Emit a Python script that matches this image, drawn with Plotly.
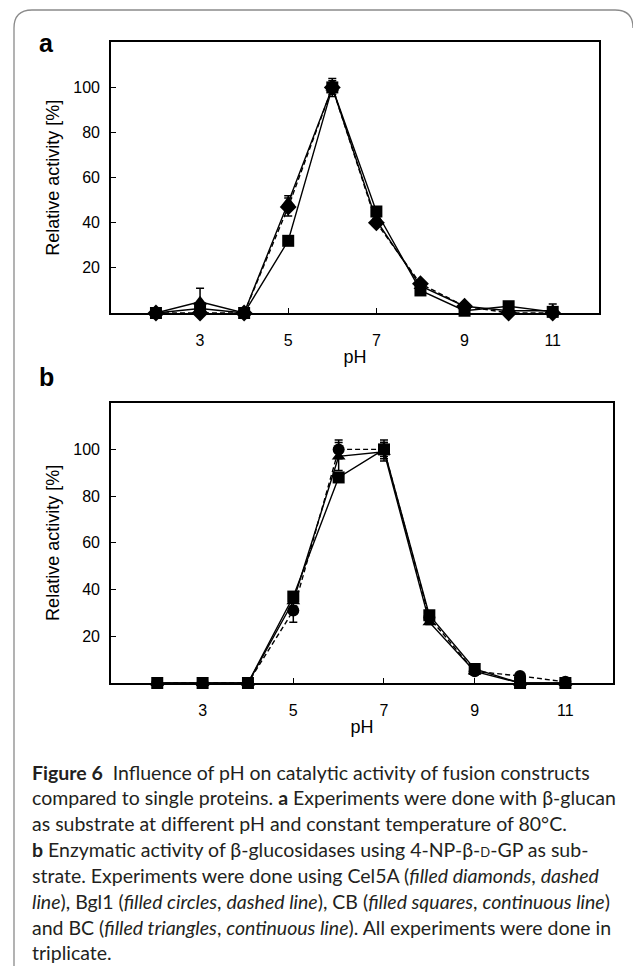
import plotly.graph_objects as go

W, H = 633, 966

ph = [2, 3, 4, 5, 6, 7, 8, 9, 10, 11]

# Panel a (beta-glucan)
a_cel5a = [0, 0, 0, 47, 100, 40, 13, 3, 0, 0]
a_cel5a_err = [0, 1, 0, 4, 2, 1, 1, 1, 0, 0]
a_cb = [0, 2, 0, 32, 100, 45, 10, 1, 3, 0.5]
a_cb_err = [0, 1, 0, 1, 3, 1, 1, 0, 1, 0]
a_bc = [0, 5, 0, 49, 100, 41, 12, 3, 1, 1]
a_bc_err = [0, 6, 0, 3, 4, 1, 1, 1, 1, 3]

# Panel b (4-NP-beta-D-GP)
b_bgl1 = [0, 0, 0, 31, 100, 100, 28, 5, 3, 0.5]
b_bgl1_err = [0, 0, 0, 5, 4, 3, 1, 1, 1, 0]
b_cb = [0, 0, 0, 37, 88, 100, 29, 6, 0, 0]
b_cb_err = [0, 0, 0, 2, 1, 4, 1, 1, 0, 0]
b_bc = [0, 0, 0, 35, 97, 99, 26, 5, 0, 0]
b_bc_err = [0, 0, 0, 2, 6, 4, 1, 1, 0, 0]

y_ticks = [0, 20, 40, 60, 80, 100, 120]
y_ticktext = ["", "20", "40", "60", "80", "100", ""]
x_ticks = [3, 5, 7, 9, 11]


def px_x(p):
    return p / W


def px_y(p):
    return 1 - p / H


fig = go.Figure()


def add_series(y, err, symbol, dash, xa, ya):
    fig.add_trace(go.Scatter(
        x=ph, y=y, mode="lines+markers",
        line=dict(color="black", width=1.4, dash=dash),
        marker=dict(symbol=symbol, size=12 if symbol != "diamond" else 13, color="black"),
        error_y=dict(type="data", symmetric=False, array=err,
                     arrayminus=[min(e, v) for e, v in zip(err, y)],
                     color="black", thickness=1.5, width=4),
        xaxis=xa, yaxis=ya, cliponaxis=False, showlegend=False,
    ))


add_series(a_cel5a, a_cel5a_err, "diamond", "5px,3px", "x", "y")
add_series(a_bc, a_bc_err, "triangle-up", "solid", "x", "y")
add_series(a_cb, a_cb_err, "square", "solid", "x", "y")

add_series(b_bgl1, b_bgl1_err, "circle", "5px,3px", "x2", "y2")
add_series(b_bc, b_bc_err, "triangle-up", "solid", "x2", "y2")
add_series(b_cb, b_cb_err, "square", "solid", "x2", "y2")

tickfont = dict(family="Liberation Sans, Arial, sans-serif", size=16, color="black")
titlefont = dict(family="Liberation Sans, Arial, sans-serif", size=18, color="black")

common_x = dict(range=[0.98, 12.05], tickvals=x_ticks, ticks="inside", ticklen=5,
                tickwidth=1.4, tickcolor="black", showline=True, linecolor="black",
                linewidth=1.6, mirror=True, showgrid=False, zeroline=False,
                tickfont=tickfont, ticklabelstandoff=12,
                title=dict(text="pH", font=titlefont, standoff=2))
common_y = dict(range=[0, 120], tickvals=y_ticks, ticktext=y_ticktext, ticks="inside",
                ticklen=5, tickwidth=1.4, tickcolor="black", showline=True,
                linecolor="black", linewidth=1.6, mirror=True, showgrid=False,
                zeroline=False, tickfont=tickfont, ticklabelstandoff=6,
                title=dict(text="Relative activity [%]", font=titlefont, standoff=9))

fig.update_layout(
    width=W, height=H, margin=dict(l=0, r=0, t=0, b=0),
    paper_bgcolor="white", plot_bgcolor="white",
    xaxis=dict(common_x, domain=[px_x(111), px_x(599)], anchor="y"),
    yaxis=dict(common_y, domain=[px_y(313), px_y(42.3)], anchor="x"),
    xaxis2=dict(common_x, domain=[px_x(111), px_x(613)], anchor="y2"),
    yaxis2=dict(common_y, domain=[px_y(683), px_y(402.7)], anchor="x2"),
)

# panel letters
for letter, yy in [("a", 43), ("b", 377)]:
    fig.add_annotation(text=f"<b>{letter}</b>", x=px_x(46), y=px_y(yy), xref="paper", yref="paper",
                       showarrow=False, xanchor="center", yanchor="middle",
                       font=dict(family="Liberation Sans, Arial, sans-serif", size=25, color="black"))

# outer border (rounded, open at bottom)
fig.add_shape(type="path", xref="paper", yref="paper",
              path=f"M {px_x(14)},{px_y(966)} L {px_x(14)},{px_y(28)} Q {px_x(14)},{px_y(10)} {px_x(32)},{px_y(10)} "
                   f"L {px_x(615)},{px_y(10)} Q {px_x(633)},{px_y(10)} {px_x(633)},{px_y(28)}",
              line=dict(color="#8a8a8a", width=1.3))

cap_font = dict(family="Lato, Noto Sans, sans-serif", size=19.5, color="#231f20")
small_d = "<span style='font-size:13px'>D</span>"
caption = [
    "<b>Figure 6</b>  Influence of pH on catalytic activity of fusion constructs",
    "compared to single proteins. <b>a</b> Experiments were done with β-glucan",
    "as substrate at different pH and constant temperature of 80°C.",
    f"<b>b</b> Enzymatic activity of β-glucosidases using 4-NP-β-{small_d}-GP as sub-",
    "strate. Experiments were done using Cel5A (<i>filled diamonds</i>, <i>dashed</i>",
    "<i>line</i>), Bgl1 (<i>filled circles</i>, <i>dashed line</i>), CB (<i>filled squares</i>, <i>continuous line</i>)",
    "and BC (<i>filled triangles</i>, <i>continuous line</i>). All experiments were done in",
    "triplicate.",
]
cap_y = [772, 797.5, 823, 849, 875, 901, 927, 952]
for t, yy in zip(caption, cap_y):
    fig.add_annotation(text=t, x=px_x(30), y=px_y(yy), xref="paper", yref="paper",
                       showarrow=False, xanchor="left", yanchor="middle", align="left",
                       font=cap_font)

fig.write_html("out.html")
